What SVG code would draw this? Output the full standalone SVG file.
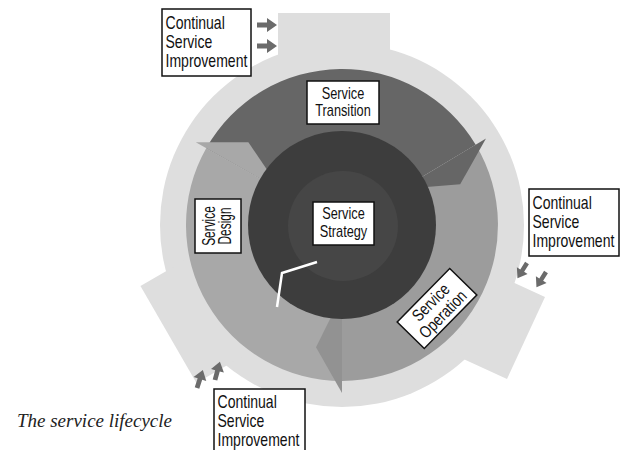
<svg xmlns="http://www.w3.org/2000/svg" width="623" height="450" viewBox="0 0 623 450">
<style>
.box{fill:#ffffff;stroke:#111111;stroke-width:1.5}
.lbl{font-family:"Liberation Sans",Arial,sans-serif;fill:#111111}
.light{fill:#dedede}
.cap{font-family:"Liberation Serif","Times New Roman",serif;font-style:italic;fill:#222222}
</style>
<defs>
<path id="blockArrow" d="M0,-2.5 H10 V-7 L20,0 L10,7 V2.5 H0 Z" fill="#6b6b6b"/>
</defs>
<rect width="623" height="450" fill="#ffffff"/>

<g id="outer-ring" class="light">
<circle cx="342" cy="225" r="182"/>
<rect x="278" y="13" width="112" height="90"/>
<polygon points="545,297 507,379 452.5,354 490.5,272"/>
<rect x="278" y="20" width="112" height="90" transform="rotate(240 342 225)"/>
</g>

<g id="service-transition-arc">
<path d="M206.2,148.2 A156,156 0 0 1 475.7,144.7 L410.6,183.8 A80,80 0 0 0 272.4,185.6 Z" fill="#666666"/>
</g>
<g id="service-operation-arc">
<path d="M475.7,144.7 A156,156 0 0 1 342,381 L342,305 A80,80 0 0 0 410.6,183.8 Z" fill="#9c9c9c"/>
</g>
<g id="service-design-arc">
<path d="M342,381 A156,156 0 0 1 206.2,148.2 L272.4,185.6 A80,80 0 0 0 342,305 Z" fill="#a8a8a8"/>
</g>
<g id="arrowheads">
<polygon points="486,138.5 460.2,184.3 402,188.9" fill="#666666"/>
<polygon points="342,393 316,347.3 342,295" fill="#929292"/>
<polygon points="195.8,142.3 248.4,142.2 281.1,190.5" fill="#a8a8a8"/>
</g>

<g id="service-strategy-core">
<circle cx="342" cy="225" r="94" fill="#3d3d3d"/>
<circle cx="343" cy="226" r="55" fill="#464646"/>
<polyline points="317,262 282,273 277,307" fill="none" stroke="#ffffff" stroke-width="2.5"/>
</g>

<g id="connectors">
<use href="#blockArrow" transform="translate(257,25)"/>
<use href="#blockArrow" transform="translate(257,46)"/>
<use href="#blockArrow" transform="translate(527,263) rotate(122) scale(0.9)"/>
<use href="#blockArrow" transform="translate(546,272) rotate(122) scale(0.9)"/>
<use href="#blockArrow" transform="translate(197,388) rotate(-72) scale(0.95)"/>
<use href="#blockArrow" transform="translate(215,380) rotate(-75) scale(0.95)"/>
</g>

<g id="csi-top">
<rect class="box" x="162" y="9" width="89" height="67"/>
<text class="lbl" font-size="18" transform="translate(165.5,28.5) scale(0.78,1)"><tspan x="0" y="0">Continual</tspan><tspan x="0" y="19.3">Service</tspan><tspan x="0" y="38.5">Improvement</tspan></text>
</g>

<g id="service-transition">
<rect class="box" x="307" y="81" width="72" height="43"/>
<text class="lbl" font-size="17" text-anchor="middle" transform="translate(343,98.5) scale(0.75,1)"><tspan x="0" y="0">Service</tspan><tspan x="0" y="18">Transition</tspan></text>
</g>

<g id="service-strategy">
<rect class="box" x="313" y="202" width="61" height="43"/>
<text class="lbl" font-size="17" text-anchor="middle" transform="translate(343.5,219) scale(0.75,1)"><tspan x="0" y="0">Service</tspan><tspan x="0" y="18">Strategy</tspan></text>
</g>

<g id="service-design" transform="translate(218,226) rotate(-90)">
<rect class="box" x="-27" y="-23" width="54" height="46"/>
<text class="lbl" font-size="18" text-anchor="middle" transform="scale(0.66,1)"><tspan x="0" y="-3">Service</tspan><tspan x="0" y="13">Design</tspan></text>
</g>

<g id="service-operation" transform="translate(437,308.5) rotate(-45.5)">
<rect class="box" x="-37.5" y="-19" width="75" height="38"/>
<text class="lbl" font-size="17" text-anchor="middle" transform="scale(0.8,1)"><tspan x="0" y="-3">Service</tspan><tspan x="0" y="14">Operation</tspan></text>
</g>

<g id="csi-right">
<rect class="box" x="529" y="189" width="90" height="67"/>
<text class="lbl" font-size="18" transform="translate(532.5,208.5) scale(0.78,1)"><tspan x="0" y="0">Continual</tspan><tspan x="0" y="19.3">Service</tspan><tspan x="0" y="38.5">Improvement</tspan></text>
</g>

<g id="csi-bottom">
<rect class="box" x="214" y="389" width="91" height="70"/>
<text class="lbl" font-size="18" transform="translate(217.5,407.5) scale(0.78,1)"><tspan x="0" y="0">Continual</tspan><tspan x="0" y="19.3">Service</tspan><tspan x="0" y="38.5">Improvement</tspan></text>
</g>

<g id="caption">
<text class="cap" x="17" y="427" font-size="18" textLength="155" lengthAdjust="spacingAndGlyphs">The service lifecycle</text>
</g>
</svg>
